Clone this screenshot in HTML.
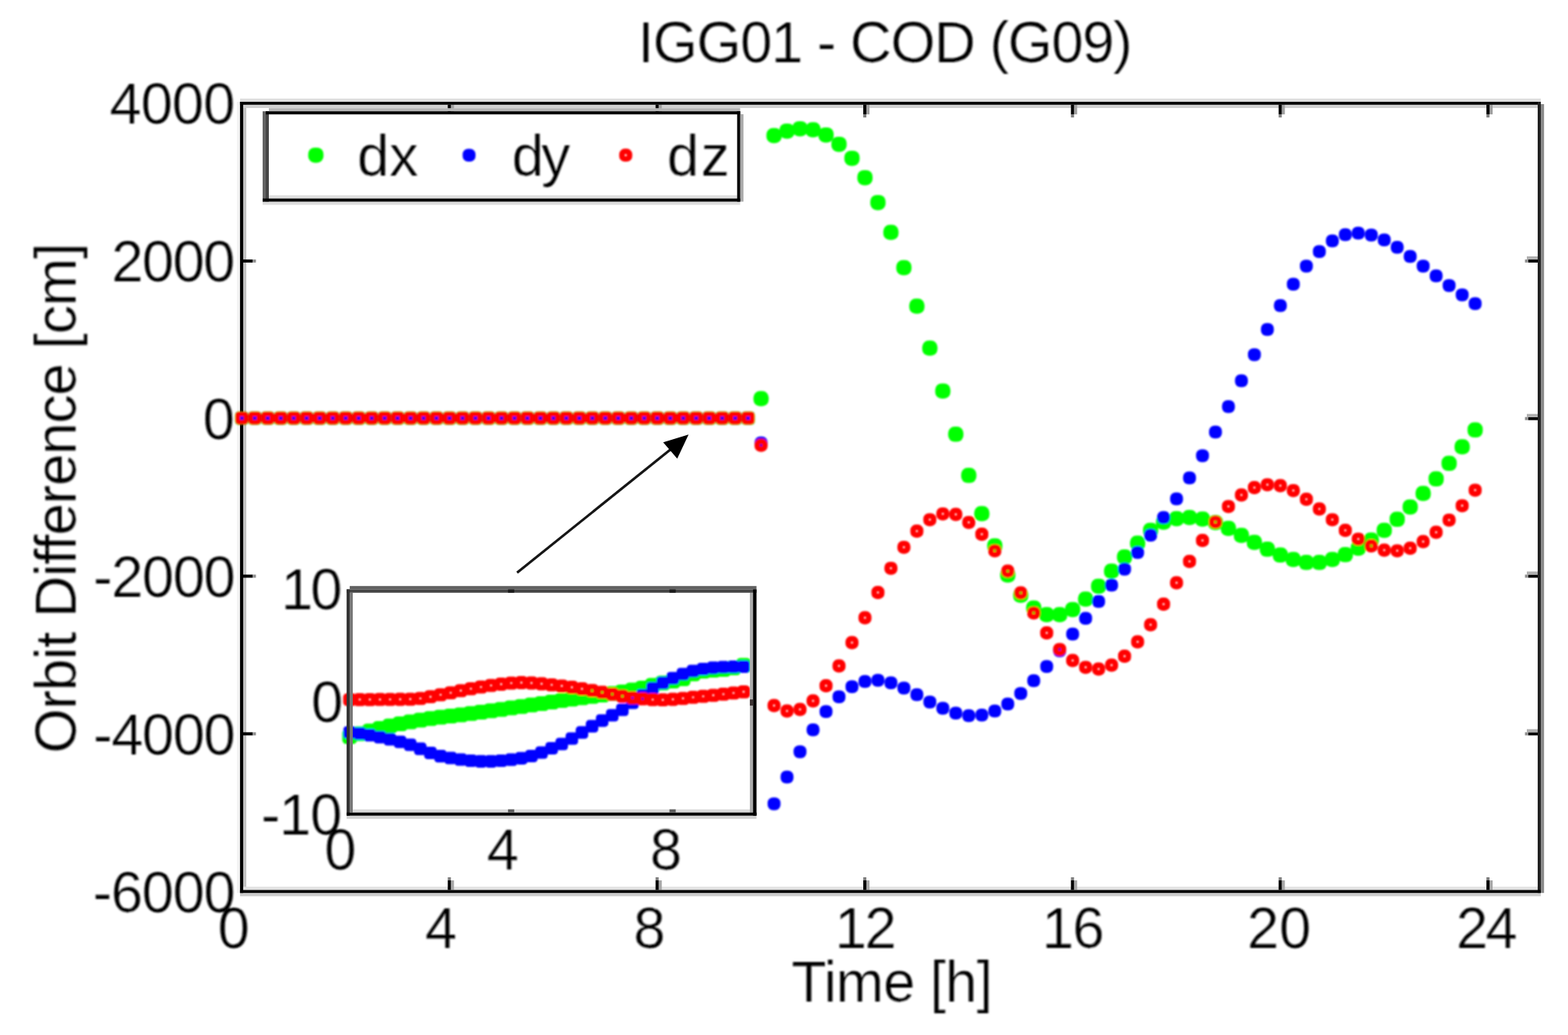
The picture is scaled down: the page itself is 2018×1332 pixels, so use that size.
<!DOCTYPE html>
<html lang="en"><head><meta charset="utf-8"><title>IGG01 - COD (G09)</title>
<style>html,body{margin:0;padding:0;background:#fff;}body{width:2018px;height:1332px;overflow:hidden;}svg{display:block;}text{font-family:"Liberation Sans",sans-serif;font-size:74px;fill:#000;stroke:#fff;stroke-width:0.2px;stroke-linejoin:round;}</style></head><body>
<svg width="2018" height="1332" viewBox="0 0 2018 1332">
<defs>
<filter id="fl" filterUnits="userSpaceOnUse" x="0" y="0" width="2018" height="1332"><feGaussianBlur stdDeviation="0.7"/></filter>
<filter id="fm" filterUnits="userSpaceOnUse" x="0" y="0" width="2018" height="1332"><feGaussianBlur stdDeviation="1.2"/></filter>
<filter id="ft" filterUnits="userSpaceOnUse" x="0" y="0" width="2018" height="1332"><feGaussianBlur stdDeviation="0.9"/></filter>
</defs>
<rect width="2018" height="1332" fill="#ffffff"/>
<g filter="url(#fl)">
<rect x="304.9" y="131.0" width="4.0" height="1018.2" fill="#f3f3f3"/>
<rect x="313.0" y="134.8" width="4.0" height="1010.6" fill="#c2c2c2"/>
<rect x="308.9" y="126.8" width="1674.1" height="4.2" fill="#dedede"/>
<rect x="313.0" y="134.8" width="1666.0" height="4.2" fill="#d0d0d0"/>
<rect x="1983.0" y="134.0" width="4.2" height="1015.2" fill="#8a8a8a"/>
<rect x="313.0" y="1141.2" width="1666.0" height="4.2" fill="#e2e2e2"/>
<rect x="308.9" y="1149.2" width="1674.1" height="4.2" fill="#cccccc"/>
<rect x="580.3" y="1133.0" width="4.0" height="12.4" fill="#a8a8a8"/>
<rect x="576.3" y="1129.0" width="4.0" height="4.0" fill="#808080"/>
<rect x="576.3" y="1133.0" width="4.0" height="12.4" fill="#000"/>
<rect x="580.3" y="134.8" width="4.0" height="12.4" fill="#a0a0a0"/>
<rect x="576.3" y="147.2" width="4.0" height="4.0" fill="#808080"/>
<rect x="576.3" y="134.8" width="4.0" height="12.4" fill="#000"/>
<rect x="847.7" y="1133.0" width="4.0" height="12.4" fill="#a8a8a8"/>
<rect x="843.7" y="1129.0" width="4.0" height="4.0" fill="#808080"/>
<rect x="843.7" y="1133.0" width="4.0" height="12.4" fill="#000"/>
<rect x="847.7" y="134.8" width="4.0" height="12.4" fill="#a0a0a0"/>
<rect x="843.7" y="147.2" width="4.0" height="4.0" fill="#808080"/>
<rect x="843.7" y="134.8" width="4.0" height="12.4" fill="#000"/>
<rect x="1115.0" y="1133.0" width="4.0" height="12.4" fill="#a8a8a8"/>
<rect x="1111.0" y="1129.0" width="4.0" height="4.0" fill="#808080"/>
<rect x="1111.0" y="1133.0" width="4.0" height="12.4" fill="#000"/>
<rect x="1115.0" y="134.8" width="4.0" height="12.4" fill="#a0a0a0"/>
<rect x="1111.0" y="147.2" width="4.0" height="4.0" fill="#808080"/>
<rect x="1111.0" y="134.8" width="4.0" height="12.4" fill="#000"/>
<rect x="1382.3" y="1133.0" width="4.0" height="12.4" fill="#a8a8a8"/>
<rect x="1378.3" y="1129.0" width="4.0" height="4.0" fill="#808080"/>
<rect x="1378.3" y="1133.0" width="4.0" height="12.4" fill="#000"/>
<rect x="1382.3" y="134.8" width="4.0" height="12.4" fill="#a0a0a0"/>
<rect x="1378.3" y="147.2" width="4.0" height="4.0" fill="#808080"/>
<rect x="1378.3" y="134.8" width="4.0" height="12.4" fill="#000"/>
<rect x="1649.6" y="1133.0" width="4.0" height="12.4" fill="#a8a8a8"/>
<rect x="1645.6" y="1129.0" width="4.0" height="4.0" fill="#808080"/>
<rect x="1645.6" y="1133.0" width="4.0" height="12.4" fill="#000"/>
<rect x="1649.6" y="134.8" width="4.0" height="12.4" fill="#a0a0a0"/>
<rect x="1645.6" y="147.2" width="4.0" height="4.0" fill="#808080"/>
<rect x="1645.6" y="134.8" width="4.0" height="12.4" fill="#000"/>
<rect x="1917.0" y="1133.0" width="4.0" height="12.4" fill="#a8a8a8"/>
<rect x="1913.0" y="1129.0" width="4.0" height="4.0" fill="#808080"/>
<rect x="1913.0" y="1133.0" width="4.0" height="12.4" fill="#000"/>
<rect x="1917.0" y="134.8" width="4.0" height="12.4" fill="#a0a0a0"/>
<rect x="1913.0" y="147.2" width="4.0" height="4.0" fill="#808080"/>
<rect x="1913.0" y="134.8" width="4.0" height="12.4" fill="#000"/>
<rect x="313.0" y="333.9" width="12.4" height="4.0" fill="#000"/>
<rect x="325.4" y="333.9" width="4.0" height="4.0" fill="#909090"/>
<rect x="1966.6" y="333.9" width="12.4" height="4.0" fill="#000"/>
<rect x="1962.6" y="333.9" width="4.0" height="4.0" fill="#909090"/>
<rect x="1965.0" y="329.9" width="14.0" height="4.0" fill="#b0b0b0"/>
<rect x="313.0" y="536.7" width="12.4" height="4.0" fill="#000"/>
<rect x="325.4" y="536.7" width="4.0" height="4.0" fill="#909090"/>
<rect x="1966.6" y="536.7" width="12.4" height="4.0" fill="#000"/>
<rect x="1962.6" y="536.7" width="4.0" height="4.0" fill="#909090"/>
<rect x="1965.0" y="532.7" width="14.0" height="4.0" fill="#b0b0b0"/>
<rect x="313.0" y="739.5" width="12.4" height="4.0" fill="#000"/>
<rect x="325.4" y="739.5" width="4.0" height="4.0" fill="#909090"/>
<rect x="1966.6" y="739.5" width="12.4" height="4.0" fill="#000"/>
<rect x="1962.6" y="739.5" width="4.0" height="4.0" fill="#909090"/>
<rect x="1965.0" y="735.5" width="14.0" height="4.0" fill="#b0b0b0"/>
<rect x="313.0" y="942.4" width="12.4" height="4.0" fill="#000"/>
<rect x="325.4" y="942.4" width="4.0" height="4.0" fill="#909090"/>
<rect x="1966.6" y="942.4" width="12.4" height="4.0" fill="#000"/>
<rect x="1962.6" y="942.4" width="4.0" height="4.0" fill="#909090"/>
<rect x="1965.0" y="938.4" width="14.0" height="4.0" fill="#b0b0b0"/>
<rect x="308.9" y="131.0" width="4.1" height="1018.2" fill="#000"/>
<rect x="308.9" y="131.0" width="1674.1" height="3.8" fill="#000"/>
<rect x="1979.0" y="131.0" width="4.0" height="1018.2" fill="#202020"/>
<rect x="308.9" y="1145.4" width="1674.1" height="3.8" fill="#000"/>
</g>
<g filter="url(#fm)">
<g fill="#00ff00"><rect x="302.5" y="529.4" width="17.4" height="17.4" rx="4.3"/><rect x="319.2" y="529.4" width="17.4" height="17.4" rx="4.3"/><rect x="335.9" y="529.4" width="17.4" height="17.4" rx="4.3"/><rect x="352.6" y="529.4" width="17.4" height="17.4" rx="4.3"/><rect x="369.3" y="529.4" width="17.4" height="17.4" rx="4.3"/><rect x="386.0" y="529.4" width="17.4" height="17.4" rx="4.3"/><rect x="402.7" y="529.4" width="17.4" height="17.4" rx="4.3"/><rect x="419.5" y="529.4" width="17.4" height="17.4" rx="4.3"/><rect x="436.2" y="529.4" width="17.4" height="17.4" rx="4.3"/><rect x="452.9" y="529.4" width="17.4" height="17.4" rx="4.3"/><rect x="469.6" y="529.4" width="17.4" height="17.4" rx="4.3"/><rect x="486.3" y="529.4" width="17.4" height="17.4" rx="4.3"/><rect x="503.0" y="529.4" width="17.4" height="17.4" rx="4.3"/><rect x="519.7" y="529.4" width="17.4" height="17.4" rx="4.3"/><rect x="536.4" y="529.4" width="17.4" height="17.4" rx="4.3"/><rect x="553.1" y="529.4" width="17.4" height="17.4" rx="4.3"/><rect x="569.8" y="529.4" width="17.4" height="17.4" rx="4.3"/><rect x="586.5" y="529.4" width="17.4" height="17.4" rx="4.3"/><rect x="603.2" y="529.4" width="17.4" height="17.4" rx="4.3"/><rect x="620.0" y="529.4" width="17.4" height="17.4" rx="4.3"/><rect x="636.7" y="529.4" width="17.4" height="17.4" rx="4.3"/><rect x="653.4" y="529.4" width="17.4" height="17.4" rx="4.3"/><rect x="670.1" y="529.4" width="17.4" height="17.4" rx="4.3"/><rect x="686.8" y="529.4" width="17.4" height="17.4" rx="4.3"/><rect x="703.5" y="529.4" width="17.4" height="17.4" rx="4.3"/><rect x="720.2" y="529.4" width="17.4" height="17.4" rx="4.3"/><rect x="736.9" y="529.4" width="17.4" height="17.4" rx="4.3"/><rect x="753.6" y="529.4" width="17.4" height="17.4" rx="4.3"/><rect x="770.3" y="529.4" width="17.4" height="17.4" rx="4.3"/><rect x="787.0" y="529.4" width="17.4" height="17.4" rx="4.3"/><rect x="803.7" y="529.4" width="17.4" height="17.4" rx="4.3"/><rect x="820.4" y="529.4" width="17.4" height="17.4" rx="4.3"/><rect x="837.2" y="529.4" width="17.4" height="17.4" rx="4.3"/><rect x="853.9" y="529.4" width="17.4" height="17.4" rx="4.3"/><rect x="870.6" y="529.4" width="17.4" height="17.4" rx="4.3"/><rect x="887.3" y="529.4" width="17.4" height="17.4" rx="4.3"/><rect x="904.0" y="529.4" width="17.4" height="17.4" rx="4.3"/><rect x="920.7" y="529.4" width="17.4" height="17.4" rx="4.3"/><rect x="937.4" y="529.4" width="17.4" height="17.4" rx="4.3"/><rect x="954.1" y="529.4" width="17.4" height="17.4" rx="4.3"/></g>
<g fill="#00ff00"><rect x="969.7" y="503.2" width="19.6" height="19.6" rx="8.3"/><rect x="986.4" y="164.7" width="19.6" height="19.6" rx="8.3"/><rect x="1003.1" y="158.9" width="19.6" height="19.6" rx="8.3"/><rect x="1019.8" y="155.9" width="19.6" height="19.6" rx="8.3"/><rect x="1036.6" y="157.2" width="19.6" height="19.6" rx="8.3"/><rect x="1053.3" y="163.9" width="19.6" height="19.6" rx="8.3"/><rect x="1070.0" y="175.9" width="19.6" height="19.6" rx="8.3"/><rect x="1086.7" y="193.9" width="19.6" height="19.6" rx="8.3"/><rect x="1103.4" y="218.9" width="19.6" height="19.6" rx="8.3"/><rect x="1120.1" y="250.9" width="19.6" height="19.6" rx="8.3"/><rect x="1136.8" y="289.2" width="19.6" height="19.6" rx="8.3"/><rect x="1153.5" y="334.7" width="19.6" height="19.6" rx="8.3"/><rect x="1170.2" y="384.2" width="19.6" height="19.6" rx="8.3"/><rect x="1186.9" y="438.2" width="19.6" height="19.6" rx="8.3"/><rect x="1203.6" y="493.4" width="19.6" height="19.6" rx="8.3"/><rect x="1220.3" y="549.0" width="19.6" height="19.6" rx="8.3"/><rect x="1237.0" y="602.0" width="19.6" height="19.6" rx="8.3"/><rect x="1253.8" y="651.2" width="19.6" height="19.6" rx="8.3"/><rect x="1270.5" y="692.7" width="19.6" height="19.6" rx="8.3"/><rect x="1287.2" y="730.2" width="19.6" height="19.6" rx="8.3"/><rect x="1303.9" y="756.2" width="19.6" height="19.6" rx="8.3"/><rect x="1320.6" y="772.7" width="19.6" height="19.6" rx="8.3"/><rect x="1337.3" y="781.2" width="19.6" height="19.6" rx="8.3"/><rect x="1354.0" y="781.2" width="19.6" height="19.6" rx="8.3"/><rect x="1370.7" y="774.7" width="19.6" height="19.6" rx="8.3"/><rect x="1387.4" y="761.2" width="19.6" height="19.6" rx="8.3"/><rect x="1404.1" y="744.7" width="19.6" height="19.6" rx="8.3"/><rect x="1420.8" y="725.2" width="19.6" height="19.6" rx="8.3"/><rect x="1437.5" y="707.0" width="19.6" height="19.6" rx="8.3"/><rect x="1454.3" y="689.2" width="19.6" height="19.6" rx="8.3"/><rect x="1471.0" y="672.7" width="19.6" height="19.6" rx="8.3"/><rect x="1487.7" y="662.2" width="19.6" height="19.6" rx="8.3"/><rect x="1504.4" y="657.7" width="19.6" height="19.6" rx="8.3"/><rect x="1521.1" y="656.2" width="19.6" height="19.6" rx="8.3"/><rect x="1537.8" y="658.2" width="19.6" height="19.6" rx="8.3"/><rect x="1554.5" y="662.7" width="19.6" height="19.6" rx="8.3"/><rect x="1571.2" y="670.2" width="19.6" height="19.6" rx="8.3"/><rect x="1587.9" y="679.2" width="19.6" height="19.6" rx="8.3"/><rect x="1604.6" y="688.2" width="19.6" height="19.6" rx="8.3"/><rect x="1621.3" y="697.0" width="19.6" height="19.6" rx="8.3"/><rect x="1638.0" y="704.5" width="19.6" height="19.6" rx="8.3"/><rect x="1654.7" y="710.2" width="19.6" height="19.6" rx="8.3"/><rect x="1671.5" y="714.0" width="19.6" height="19.6" rx="8.3"/><rect x="1688.2" y="714.0" width="19.6" height="19.6" rx="8.3"/><rect x="1704.9" y="710.2" width="19.6" height="19.6" rx="8.3"/><rect x="1721.6" y="704.0" width="19.6" height="19.6" rx="8.3"/><rect x="1738.3" y="695.7" width="19.6" height="19.6" rx="8.3"/><rect x="1755.0" y="685.2" width="19.6" height="19.6" rx="8.3"/><rect x="1771.7" y="672.7" width="19.6" height="19.6" rx="8.3"/><rect x="1788.4" y="658.5" width="19.6" height="19.6" rx="8.3"/><rect x="1805.1" y="642.7" width="19.6" height="19.6" rx="8.3"/><rect x="1821.8" y="625.2" width="19.6" height="19.6" rx="8.3"/><rect x="1838.5" y="606.5" width="19.6" height="19.6" rx="8.3"/><rect x="1855.2" y="586.5" width="19.6" height="19.6" rx="8.3"/><rect x="1872.0" y="565.2" width="19.6" height="19.6" rx="8.3"/><rect x="1888.7" y="543.5" width="19.6" height="19.6" rx="8.3"/></g>
<g fill="#0000ff"><rect x="303.1" y="530.0" width="16.1" height="16.1" rx="4.0"/><rect x="319.9" y="530.0" width="16.1" height="16.1" rx="4.0"/><rect x="336.6" y="530.0" width="16.1" height="16.1" rx="4.0"/><rect x="353.3" y="530.0" width="16.1" height="16.1" rx="4.0"/><rect x="370.0" y="530.0" width="16.1" height="16.1" rx="4.0"/><rect x="386.7" y="530.0" width="16.1" height="16.1" rx="4.0"/><rect x="403.4" y="530.0" width="16.1" height="16.1" rx="4.0"/><rect x="420.1" y="530.0" width="16.1" height="16.1" rx="4.0"/><rect x="436.8" y="530.0" width="16.1" height="16.1" rx="4.0"/><rect x="453.5" y="530.0" width="16.1" height="16.1" rx="4.0"/><rect x="470.2" y="530.0" width="16.1" height="16.1" rx="4.0"/><rect x="486.9" y="530.0" width="16.1" height="16.1" rx="4.0"/><rect x="503.6" y="530.0" width="16.1" height="16.1" rx="4.0"/><rect x="520.4" y="530.0" width="16.1" height="16.1" rx="4.0"/><rect x="537.1" y="530.0" width="16.1" height="16.1" rx="4.0"/><rect x="553.8" y="530.0" width="16.1" height="16.1" rx="4.0"/><rect x="570.5" y="530.0" width="16.1" height="16.1" rx="4.0"/><rect x="587.2" y="530.0" width="16.1" height="16.1" rx="4.0"/><rect x="603.9" y="530.0" width="16.1" height="16.1" rx="4.0"/><rect x="620.6" y="530.0" width="16.1" height="16.1" rx="4.0"/><rect x="637.3" y="530.0" width="16.1" height="16.1" rx="4.0"/><rect x="654.0" y="530.0" width="16.1" height="16.1" rx="4.0"/><rect x="670.7" y="530.0" width="16.1" height="16.1" rx="4.0"/><rect x="687.4" y="530.0" width="16.1" height="16.1" rx="4.0"/><rect x="704.1" y="530.0" width="16.1" height="16.1" rx="4.0"/><rect x="720.8" y="530.0" width="16.1" height="16.1" rx="4.0"/><rect x="737.6" y="530.0" width="16.1" height="16.1" rx="4.0"/><rect x="754.3" y="530.0" width="16.1" height="16.1" rx="4.0"/><rect x="771.0" y="530.0" width="16.1" height="16.1" rx="4.0"/><rect x="787.7" y="530.0" width="16.1" height="16.1" rx="4.0"/><rect x="804.4" y="530.0" width="16.1" height="16.1" rx="4.0"/><rect x="821.1" y="530.0" width="16.1" height="16.1" rx="4.0"/><rect x="837.8" y="530.0" width="16.1" height="16.1" rx="4.0"/><rect x="854.5" y="530.0" width="16.1" height="16.1" rx="4.0"/><rect x="871.2" y="530.0" width="16.1" height="16.1" rx="4.0"/><rect x="887.9" y="530.0" width="16.1" height="16.1" rx="4.0"/><rect x="904.6" y="530.0" width="16.1" height="16.1" rx="4.0"/><rect x="921.3" y="530.0" width="16.1" height="16.1" rx="4.0"/><rect x="938.1" y="530.0" width="16.1" height="16.1" rx="4.0"/><rect x="954.8" y="530.0" width="16.1" height="16.1" rx="4.0"/></g>
<g fill="#0000ff"><rect x="971.2" y="561.7" width="16.6" height="16.6" rx="7.1"/><rect x="987.9" y="1026.2" width="16.6" height="16.6" rx="7.1"/><rect x="1004.6" y="991.7" width="16.6" height="16.6" rx="7.1"/><rect x="1021.3" y="959.2" width="16.6" height="16.6" rx="7.1"/><rect x="1038.1" y="931.0" width="16.6" height="16.6" rx="7.1"/><rect x="1054.8" y="907.5" width="16.6" height="16.6" rx="7.1"/><rect x="1071.5" y="888.5" width="16.6" height="16.6" rx="7.1"/><rect x="1088.2" y="875.5" width="16.6" height="16.6" rx="7.1"/><rect x="1104.9" y="868.7" width="16.6" height="16.6" rx="7.1"/><rect x="1121.6" y="867.2" width="16.6" height="16.6" rx="7.1"/><rect x="1138.3" y="870.5" width="16.6" height="16.6" rx="7.1"/><rect x="1155.0" y="877.2" width="16.6" height="16.6" rx="7.1"/><rect x="1171.7" y="885.7" width="16.6" height="16.6" rx="7.1"/><rect x="1188.4" y="895.2" width="16.6" height="16.6" rx="7.1"/><rect x="1205.1" y="903.2" width="16.6" height="16.6" rx="7.1"/><rect x="1221.8" y="909.5" width="16.6" height="16.6" rx="7.1"/><rect x="1238.5" y="912.7" width="16.6" height="16.6" rx="7.1"/><rect x="1255.3" y="912.0" width="16.6" height="16.6" rx="7.1"/><rect x="1272.0" y="906.7" width="16.6" height="16.6" rx="7.1"/><rect x="1288.7" y="897.7" width="16.6" height="16.6" rx="7.1"/><rect x="1305.4" y="884.2" width="16.6" height="16.6" rx="7.1"/><rect x="1322.1" y="867.7" width="16.6" height="16.6" rx="7.1"/><rect x="1338.8" y="849.5" width="16.6" height="16.6" rx="7.1"/><rect x="1355.5" y="829.2" width="16.6" height="16.6" rx="7.1"/><rect x="1372.2" y="807.7" width="16.6" height="16.6" rx="7.1"/><rect x="1388.9" y="787.5" width="16.6" height="16.6" rx="7.1"/><rect x="1405.6" y="765.7" width="16.6" height="16.6" rx="7.1"/><rect x="1422.3" y="744.7" width="16.6" height="16.6" rx="7.1"/><rect x="1439.0" y="724.2" width="16.6" height="16.6" rx="7.1"/><rect x="1455.8" y="702.7" width="16.6" height="16.6" rx="7.1"/><rect x="1472.5" y="680.5" width="16.6" height="16.6" rx="7.1"/><rect x="1489.2" y="657.7" width="16.6" height="16.6" rx="7.1"/><rect x="1505.9" y="633.7" width="16.6" height="16.6" rx="7.1"/><rect x="1522.6" y="606.7" width="16.6" height="16.6" rx="7.1"/><rect x="1539.3" y="578.2" width="16.6" height="16.6" rx="7.1"/><rect x="1556.0" y="547.7" width="16.6" height="16.6" rx="7.1"/><rect x="1572.7" y="515.0" width="16.6" height="16.6" rx="7.1"/><rect x="1589.4" y="481.7" width="16.6" height="16.6" rx="7.1"/><rect x="1606.1" y="448.2" width="16.6" height="16.6" rx="7.1"/><rect x="1622.8" y="415.7" width="16.6" height="16.6" rx="7.1"/><rect x="1639.5" y="384.9" width="16.6" height="16.6" rx="7.1"/><rect x="1656.2" y="357.4" width="16.6" height="16.6" rx="7.1"/><rect x="1673.0" y="334.2" width="16.6" height="16.6" rx="7.1"/><rect x="1689.7" y="315.4" width="16.6" height="16.6" rx="7.1"/><rect x="1706.4" y="301.7" width="16.6" height="16.6" rx="7.1"/><rect x="1723.1" y="293.7" width="16.6" height="16.6" rx="7.1"/><rect x="1739.8" y="291.7" width="16.6" height="16.6" rx="7.1"/><rect x="1756.5" y="294.2" width="16.6" height="16.6" rx="7.1"/><rect x="1773.2" y="300.4" width="16.6" height="16.6" rx="7.1"/><rect x="1789.9" y="309.9" width="16.6" height="16.6" rx="7.1"/><rect x="1806.6" y="321.7" width="16.6" height="16.6" rx="7.1"/><rect x="1823.3" y="334.2" width="16.6" height="16.6" rx="7.1"/><rect x="1840.0" y="346.7" width="16.6" height="16.6" rx="7.1"/><rect x="1856.7" y="359.2" width="16.6" height="16.6" rx="7.1"/><rect x="1873.5" y="371.2" width="16.6" height="16.6" rx="7.1"/><rect x="1890.2" y="382.4" width="16.6" height="16.6" rx="7.1"/></g>
<g fill="none" stroke="#ff0000" stroke-width="6.2"><rect x="305.9" y="532.8" width="10.6" height="10.6" rx="1.6"/><rect x="322.6" y="532.8" width="10.6" height="10.6" rx="1.6"/><rect x="339.3" y="532.8" width="10.6" height="10.6" rx="1.6"/><rect x="356.0" y="532.8" width="10.6" height="10.6" rx="1.6"/><rect x="372.7" y="532.8" width="10.6" height="10.6" rx="1.6"/><rect x="389.4" y="532.8" width="10.6" height="10.6" rx="1.6"/><rect x="406.1" y="532.8" width="10.6" height="10.6" rx="1.6"/><rect x="422.9" y="532.8" width="10.6" height="10.6" rx="1.6"/><rect x="439.6" y="532.8" width="10.6" height="10.6" rx="1.6"/><rect x="456.3" y="532.8" width="10.6" height="10.6" rx="1.6"/><rect x="473.0" y="532.8" width="10.6" height="10.6" rx="1.6"/><rect x="489.7" y="532.8" width="10.6" height="10.6" rx="1.6"/><rect x="506.4" y="532.8" width="10.6" height="10.6" rx="1.6"/><rect x="523.1" y="532.8" width="10.6" height="10.6" rx="1.6"/><rect x="539.8" y="532.8" width="10.6" height="10.6" rx="1.6"/><rect x="556.5" y="532.8" width="10.6" height="10.6" rx="1.6"/><rect x="573.2" y="532.8" width="10.6" height="10.6" rx="1.6"/><rect x="589.9" y="532.8" width="10.6" height="10.6" rx="1.6"/><rect x="606.6" y="532.8" width="10.6" height="10.6" rx="1.6"/><rect x="623.4" y="532.8" width="10.6" height="10.6" rx="1.6"/><rect x="640.1" y="532.8" width="10.6" height="10.6" rx="1.6"/><rect x="656.8" y="532.8" width="10.6" height="10.6" rx="1.6"/><rect x="673.5" y="532.8" width="10.6" height="10.6" rx="1.6"/><rect x="690.2" y="532.8" width="10.6" height="10.6" rx="1.6"/><rect x="706.9" y="532.8" width="10.6" height="10.6" rx="1.6"/><rect x="723.6" y="532.8" width="10.6" height="10.6" rx="1.6"/><rect x="740.3" y="532.8" width="10.6" height="10.6" rx="1.6"/><rect x="757.0" y="532.8" width="10.6" height="10.6" rx="1.6"/><rect x="773.7" y="532.8" width="10.6" height="10.6" rx="1.6"/><rect x="790.4" y="532.8" width="10.6" height="10.6" rx="1.6"/><rect x="807.1" y="532.8" width="10.6" height="10.6" rx="1.6"/><rect x="823.8" y="532.8" width="10.6" height="10.6" rx="1.6"/><rect x="840.6" y="532.8" width="10.6" height="10.6" rx="1.6"/><rect x="857.3" y="532.8" width="10.6" height="10.6" rx="1.6"/><rect x="874.0" y="532.8" width="10.6" height="10.6" rx="1.6"/><rect x="890.7" y="532.8" width="10.6" height="10.6" rx="1.6"/><rect x="907.4" y="532.8" width="10.6" height="10.6" rx="1.6"/><rect x="924.1" y="532.8" width="10.6" height="10.6" rx="1.6"/><rect x="940.8" y="532.8" width="10.6" height="10.6" rx="1.6"/><rect x="957.5" y="532.8" width="10.6" height="10.6" rx="1.6"/></g>
<g fill="none" stroke="#ff0000" stroke-width="7.2"><rect x="974.7" y="568.2" width="9.6" height="9.6" rx="3.6"/><rect x="991.4" y="903.2" width="9.6" height="9.6" rx="3.6"/><rect x="1008.1" y="910.2" width="9.6" height="9.6" rx="3.6"/><rect x="1024.8" y="908.2" width="9.6" height="9.6" rx="3.6"/><rect x="1041.6" y="897.2" width="9.6" height="9.6" rx="3.6"/><rect x="1058.3" y="877.7" width="9.6" height="9.6" rx="3.6"/><rect x="1075.0" y="852.2" width="9.6" height="9.6" rx="3.6"/><rect x="1091.7" y="822.2" width="9.6" height="9.6" rx="3.6"/><rect x="1108.4" y="790.2" width="9.6" height="9.6" rx="3.6"/><rect x="1125.1" y="757.7" width="9.6" height="9.6" rx="3.6"/><rect x="1141.8" y="726.5" width="9.6" height="9.6" rx="3.6"/><rect x="1158.5" y="699.5" width="9.6" height="9.6" rx="3.6"/><rect x="1175.2" y="678.7" width="9.6" height="9.6" rx="3.6"/><rect x="1191.9" y="664.0" width="9.6" height="9.6" rx="3.6"/><rect x="1208.6" y="656.5" width="9.6" height="9.6" rx="3.6"/><rect x="1225.3" y="657.2" width="9.6" height="9.6" rx="3.6"/><rect x="1242.0" y="667.5" width="9.6" height="9.6" rx="3.6"/><rect x="1258.8" y="682.7" width="9.6" height="9.6" rx="3.6"/><rect x="1275.5" y="704.0" width="9.6" height="9.6" rx="3.6"/><rect x="1292.2" y="730.2" width="9.6" height="9.6" rx="3.6"/><rect x="1308.9" y="758.2" width="9.6" height="9.6" rx="3.6"/><rect x="1325.6" y="784.0" width="9.6" height="9.6" rx="3.6"/><rect x="1342.3" y="809.7" width="9.6" height="9.6" rx="3.6"/><rect x="1359.0" y="831.0" width="9.6" height="9.6" rx="3.6"/><rect x="1375.7" y="845.2" width="9.6" height="9.6" rx="3.6"/><rect x="1392.4" y="854.0" width="9.6" height="9.6" rx="3.6"/><rect x="1409.1" y="856.2" width="9.6" height="9.6" rx="3.6"/><rect x="1425.8" y="851.2" width="9.6" height="9.6" rx="3.6"/><rect x="1442.5" y="839.7" width="9.6" height="9.6" rx="3.6"/><rect x="1459.3" y="821.2" width="9.6" height="9.6" rx="3.6"/><rect x="1476.0" y="799.2" width="9.6" height="9.6" rx="3.6"/><rect x="1492.7" y="772.7" width="9.6" height="9.6" rx="3.6"/><rect x="1509.4" y="745.2" width="9.6" height="9.6" rx="3.6"/><rect x="1526.1" y="717.7" width="9.6" height="9.6" rx="3.6"/><rect x="1542.8" y="690.7" width="9.6" height="9.6" rx="3.6"/><rect x="1559.5" y="667.0" width="9.6" height="9.6" rx="3.6"/><rect x="1576.2" y="647.0" width="9.6" height="9.6" rx="3.6"/><rect x="1592.9" y="632.2" width="9.6" height="9.6" rx="3.6"/><rect x="1609.6" y="622.7" width="9.6" height="9.6" rx="3.6"/><rect x="1626.3" y="619.0" width="9.6" height="9.6" rx="3.6"/><rect x="1643.0" y="620.2" width="9.6" height="9.6" rx="3.6"/><rect x="1659.7" y="626.5" width="9.6" height="9.6" rx="3.6"/><rect x="1676.5" y="637.7" width="9.6" height="9.6" rx="3.6"/><rect x="1693.2" y="650.2" width="9.6" height="9.6" rx="3.6"/><rect x="1709.9" y="664.0" width="9.6" height="9.6" rx="3.6"/><rect x="1726.6" y="677.7" width="9.6" height="9.6" rx="3.6"/><rect x="1743.3" y="689.0" width="9.6" height="9.6" rx="3.6"/><rect x="1760.0" y="697.7" width="9.6" height="9.6" rx="3.6"/><rect x="1776.7" y="703.2" width="9.6" height="9.6" rx="3.6"/><rect x="1793.4" y="704.0" width="9.6" height="9.6" rx="3.6"/><rect x="1810.1" y="700.7" width="9.6" height="9.6" rx="3.6"/><rect x="1826.8" y="692.2" width="9.6" height="9.6" rx="3.6"/><rect x="1843.5" y="680.2" width="9.6" height="9.6" rx="3.6"/><rect x="1860.2" y="664.5" width="9.6" height="9.6" rx="3.6"/><rect x="1877.0" y="646.0" width="9.6" height="9.6" rx="3.6"/><rect x="1893.7" y="626.0" width="9.6" height="9.6" rx="3.6"/></g>
</g>
<g filter="url(#fl)">
<rect x="342" y="145.2" width="608.6" height="112.3" fill="#ffffff"/>
<rect x="346.0" y="139.2" width="606.6" height="4.0" fill="#b4b4b4"/>
<rect x="346.0" y="251.3" width="602.7" height="4.2" fill="#dedede"/>
<rect x="338.0" y="259.5" width="614.6" height="4.1" fill="#dcdcdc"/>
<rect x="952.6" y="147.0" width="4.2" height="112.5" fill="#aaaaaa"/>
<rect x="338.0" y="143.2" width="4.0" height="116.3" fill="#646464"/>
<rect x="342.0" y="143.2" width="4.0" height="116.3" fill="#444444"/>
<rect x="342.0" y="143.2" width="610.6" height="4.0" fill="#000"/>
<rect x="338.0" y="255.5" width="614.6" height="4.0" fill="#000"/>
<rect x="948.7" y="143.2" width="3.9" height="116.3" fill="#000"/>
</g>
<g filter="url(#fm)">
<g fill="#00ff00"><rect x="396.7" y="189.9" width="19.6" height="19.6" rx="8.3"/></g>
<g fill="#0000ff"><rect x="595.4" y="191.4" width="16.6" height="16.6" rx="7.1"/></g>
<g fill="none" stroke="#ff0000" stroke-width="7.2"><rect x="800.5" y="194.9" width="9.6" height="9.6" rx="3.6"/></g>
</g>
<rect x="446.1" y="754.2" width="527.5" height="295.5" fill="#ffffff"/>
<g filter="url(#fm)">
<g fill="#00ff00"><rect x="440.5" y="938.5" width="19.0" height="19.0" rx="5.2"/><rect x="453.5" y="934.8" width="19.0" height="19.0" rx="5.2"/><rect x="466.5" y="931.3" width="19.0" height="19.0" rx="5.2"/><rect x="479.5" y="927.9" width="19.0" height="19.0" rx="5.2"/><rect x="492.5" y="924.8" width="19.0" height="19.0" rx="5.2"/><rect x="505.5" y="922.0" width="19.0" height="19.0" rx="5.2"/><rect x="518.5" y="919.4" width="19.0" height="19.0" rx="5.2"/><rect x="531.5" y="917.2" width="19.0" height="19.0" rx="5.2"/><rect x="544.5" y="915.2" width="19.0" height="19.0" rx="5.2"/><rect x="557.5" y="913.5" width="19.0" height="19.0" rx="5.2"/><rect x="570.5" y="911.9" width="19.0" height="19.0" rx="5.2"/><rect x="583.5" y="910.4" width="19.0" height="19.0" rx="5.2"/><rect x="596.5" y="908.8" width="19.0" height="19.0" rx="5.2"/><rect x="609.5" y="907.1" width="19.0" height="19.0" rx="5.2"/><rect x="622.5" y="905.3" width="19.0" height="19.0" rx="5.2"/><rect x="635.5" y="903.5" width="19.0" height="19.0" rx="5.2"/><rect x="648.5" y="901.6" width="19.0" height="19.0" rx="5.2"/><rect x="661.5" y="899.7" width="19.0" height="19.0" rx="5.2"/><rect x="674.5" y="897.8" width="19.0" height="19.0" rx="5.2"/><rect x="687.5" y="895.9" width="19.0" height="19.0" rx="5.2"/><rect x="700.5" y="894.0" width="19.0" height="19.0" rx="5.2"/><rect x="713.5" y="892.1" width="19.0" height="19.0" rx="5.2"/><rect x="726.5" y="890.2" width="19.0" height="19.0" rx="5.2"/><rect x="739.5" y="888.5" width="19.0" height="19.0" rx="5.2"/><rect x="752.5" y="886.7" width="19.0" height="19.0" rx="5.2"/><rect x="765.5" y="884.9" width="19.0" height="19.0" rx="5.2"/><rect x="778.5" y="883.0" width="19.0" height="19.0" rx="5.2"/><rect x="791.5" y="880.9" width="19.0" height="19.0" rx="5.2"/><rect x="804.5" y="878.6" width="19.0" height="19.0" rx="5.2"/><rect x="817.5" y="875.9" width="19.0" height="19.0" rx="5.2"/><rect x="830.5" y="872.5" width="19.0" height="19.0" rx="5.2"/><rect x="843.5" y="869.4" width="19.0" height="19.0" rx="5.2"/><rect x="856.5" y="867.0" width="19.0" height="19.0" rx="5.2"/><rect x="869.5" y="864.1" width="19.0" height="19.0" rx="5.2"/><rect x="882.5" y="857.8" width="19.0" height="19.0" rx="5.2"/><rect x="895.5" y="854.3" width="19.0" height="19.0" rx="5.2"/><rect x="908.5" y="853.1" width="19.0" height="19.0" rx="5.2"/><rect x="921.5" y="852.0" width="19.0" height="19.0" rx="5.2"/><rect x="934.5" y="850.0" width="19.0" height="19.0" rx="5.2"/><rect x="947.5" y="846.8" width="19.0" height="19.0" rx="5.2"/></g>
<g fill="#0000ff"><rect x="441.9" y="934.4" width="16.1" height="16.1" rx="4.4"/><rect x="454.9" y="936.0" width="16.1" height="16.1" rx="4.4"/><rect x="467.9" y="938.1" width="16.1" height="16.1" rx="4.4"/><rect x="480.9" y="940.7" width="16.1" height="16.1" rx="4.4"/><rect x="493.9" y="943.5" width="16.1" height="16.1" rx="4.4"/><rect x="506.9" y="946.7" width="16.1" height="16.1" rx="4.4"/><rect x="519.9" y="950.4" width="16.1" height="16.1" rx="4.4"/><rect x="532.9" y="955.6" width="16.1" height="16.1" rx="4.4"/><rect x="545.9" y="961.0" width="16.1" height="16.1" rx="4.4"/><rect x="558.9" y="965.1" width="16.1" height="16.1" rx="4.4"/><rect x="571.9" y="967.4" width="16.1" height="16.1" rx="4.4"/><rect x="584.9" y="969.4" width="16.1" height="16.1" rx="4.4"/><rect x="597.9" y="971.0" width="16.1" height="16.1" rx="4.4"/><rect x="610.9" y="971.8" width="16.1" height="16.1" rx="4.4"/><rect x="623.9" y="971.8" width="16.1" height="16.1" rx="4.4"/><rect x="636.9" y="971.0" width="16.1" height="16.1" rx="4.4"/><rect x="649.9" y="969.6" width="16.1" height="16.1" rx="4.4"/><rect x="662.9" y="967.8" width="16.1" height="16.1" rx="4.4"/><rect x="675.9" y="964.9" width="16.1" height="16.1" rx="4.4"/><rect x="688.9" y="960.4" width="16.1" height="16.1" rx="4.4"/><rect x="701.9" y="955.0" width="16.1" height="16.1" rx="4.4"/><rect x="714.9" y="949.4" width="16.1" height="16.1" rx="4.4"/><rect x="727.9" y="942.5" width="16.1" height="16.1" rx="4.4"/><rect x="740.9" y="934.6" width="16.1" height="16.1" rx="4.4"/><rect x="753.9" y="926.6" width="16.1" height="16.1" rx="4.4"/><rect x="766.9" y="919.3" width="16.1" height="16.1" rx="4.4"/><rect x="779.9" y="912.5" width="16.1" height="16.1" rx="4.4"/><rect x="792.9" y="905.4" width="16.1" height="16.1" rx="4.4"/><rect x="805.9" y="896.5" width="16.1" height="16.1" rx="4.4"/><rect x="818.9" y="886.8" width="16.1" height="16.1" rx="4.4"/><rect x="831.9" y="877.7" width="16.1" height="16.1" rx="4.4"/><rect x="844.9" y="870.7" width="16.1" height="16.1" rx="4.4"/><rect x="857.9" y="864.7" width="16.1" height="16.1" rx="4.4"/><rect x="870.9" y="859.4" width="16.1" height="16.1" rx="4.4"/><rect x="883.9" y="855.4" width="16.1" height="16.1" rx="4.4"/><rect x="896.9" y="853.0" width="16.1" height="16.1" rx="4.4"/><rect x="909.9" y="851.3" width="16.1" height="16.1" rx="4.4"/><rect x="922.9" y="850.4" width="16.1" height="16.1" rx="4.4"/><rect x="935.9" y="850.1" width="16.1" height="16.1" rx="4.4"/><rect x="948.9" y="849.9" width="16.1" height="16.1" rx="4.4"/></g>
<g fill="none" stroke="#ff0000" stroke-width="7.2"><rect x="445.2" y="895.5" width="9.6" height="9.6" rx="1.7"/><rect x="458.2" y="895.5" width="9.6" height="9.6" rx="1.7"/><rect x="471.2" y="895.5" width="9.6" height="9.6" rx="1.7"/><rect x="484.2" y="895.4" width="9.6" height="9.6" rx="1.7"/><rect x="497.2" y="895.3" width="9.6" height="9.6" rx="1.7"/><rect x="510.2" y="895.2" width="9.6" height="9.6" rx="1.7"/><rect x="523.2" y="895.0" width="9.6" height="9.6" rx="1.7"/><rect x="536.2" y="894.1" width="9.6" height="9.6" rx="1.7"/><rect x="549.2" y="891.9" width="9.6" height="9.6" rx="1.7"/><rect x="562.2" y="889.3" width="9.6" height="9.6" rx="1.7"/><rect x="575.2" y="886.8" width="9.6" height="9.6" rx="1.7"/><rect x="588.2" y="884.0" width="9.6" height="9.6" rx="1.7"/><rect x="601.2" y="881.6" width="9.6" height="9.6" rx="1.7"/><rect x="614.2" y="879.3" width="9.6" height="9.6" rx="1.7"/><rect x="627.2" y="877.3" width="9.6" height="9.6" rx="1.7"/><rect x="640.2" y="875.7" width="9.6" height="9.6" rx="1.7"/><rect x="653.2" y="874.3" width="9.6" height="9.6" rx="1.7"/><rect x="666.2" y="873.7" width="9.6" height="9.6" rx="1.7"/><rect x="679.2" y="874.2" width="9.6" height="9.6" rx="1.7"/><rect x="692.2" y="875.2" width="9.6" height="9.6" rx="1.7"/><rect x="705.2" y="876.6" width="9.6" height="9.6" rx="1.7"/><rect x="718.2" y="878.0" width="9.6" height="9.6" rx="1.7"/><rect x="731.2" y="879.7" width="9.6" height="9.6" rx="1.7"/><rect x="744.2" y="881.7" width="9.6" height="9.6" rx="1.7"/><rect x="757.2" y="883.9" width="9.6" height="9.6" rx="1.7"/><rect x="770.2" y="886.1" width="9.6" height="9.6" rx="1.7"/><rect x="783.2" y="888.6" width="9.6" height="9.6" rx="1.7"/><rect x="796.2" y="891.2" width="9.6" height="9.6" rx="1.7"/><rect x="809.2" y="893.3" width="9.6" height="9.6" rx="1.7"/><rect x="822.2" y="894.6" width="9.6" height="9.6" rx="1.7"/><rect x="835.2" y="895.6" width="9.6" height="9.6" rx="1.7"/><rect x="848.2" y="895.9" width="9.6" height="9.6" rx="1.7"/><rect x="861.2" y="895.2" width="9.6" height="9.6" rx="1.7"/><rect x="874.2" y="894.0" width="9.6" height="9.6" rx="1.7"/><rect x="887.2" y="892.6" width="9.6" height="9.6" rx="1.7"/><rect x="900.2" y="891.3" width="9.6" height="9.6" rx="1.7"/><rect x="913.2" y="890.0" width="9.6" height="9.6" rx="1.7"/><rect x="926.2" y="888.6" width="9.6" height="9.6" rx="1.7"/><rect x="939.2" y="887.1" width="9.6" height="9.6" rx="1.7"/><rect x="952.2" y="885.5" width="9.6" height="9.6" rx="1.7"/></g>
</g>
<g filter="url(#fl)">
<rect x="454.0" y="1041.6" width="515.2" height="4.1" fill="#dadada"/>
<rect x="446.1" y="1049.7" width="527.5" height="4.1" fill="#d2d2d2"/>
<rect x="965.1" y="762.8" width="4.1" height="282.9" fill="#aaaaaa"/>
<rect x="450.1" y="754.2" width="523.5" height="4.3" fill="#606060"/>
<rect x="446.1" y="758.5" width="527.5" height="4.3" fill="#444444"/>
<rect x="446.1" y="758.5" width="4.0" height="291.2" fill="#303030"/>
<rect x="450.1" y="762.8" width="3.9" height="282.9" fill="#787878"/>
<rect x="446.1" y="1045.7" width="527.5" height="4.0" fill="#000"/>
<rect x="969.2" y="758.5" width="4.4" height="291.2" fill="#000"/>
<rect x="653.8" y="758.5" width="8.0" height="4.3" fill="#1a1a1a"/>
<rect x="653.8" y="1041.6" width="8.0" height="4.1" fill="#5a5a5a"/>
<rect x="861.6" y="758.5" width="8.0" height="4.3" fill="#1a1a1a"/>
<rect x="861.6" y="1041.6" width="8.0" height="4.1" fill="#5a5a5a"/>
<rect x="965.1" y="900.2" width="4.1" height="7.9" fill="#3a3030"/>
</g>
<g filter="url(#fl)">
<line x1="665.5" y1="737" x2="866" y2="576" stroke="#141414" stroke-width="3.3"/>
<polygon points="886.2,559.3 853.5,569.3 871.6,590.2" fill="#000"/>
</g>
<g filter="url(#ft)">
<text x="821.0" y="80.3" style="letter-spacing:-1.34px">IGG01 - COD (G09)</text>
<text x="141.0" y="159.2" style="letter-spacing:-1.00px">4000</text>
<text x="143.5" y="362.1" style="letter-spacing:-1.83px">2000</text>
<text x="261.0" y="564.9">0</text>
<text x="120.0" y="767.8" style="letter-spacing:-1.50px">-2000</text>
<text x="120.0" y="970.6" style="letter-spacing:-1.50px">-4000</text>
<text x="119.5" y="1173.5" style="letter-spacing:-1.38px">-6000</text>
<text x="280.2" y="1220.0">0</text>
<text x="547.0" y="1220.0">4</text>
<text x="815.2" y="1220.0">8</text>
<text x="1074.5" y="1220.0" style="letter-spacing:-3.00px">12</text>
<text x="1341.0" y="1220.0" style="letter-spacing:-2.00px">16</text>
<text x="1605.0" y="1220.0" style="letter-spacing:0.00px">20</text>
<text x="1874.0" y="1220.0" style="letter-spacing:-3.50px">24</text>
<text x="1018.5" y="1288.5" style="letter-spacing:-0.79px">Time [h]</text>
<text transform="translate(97.3,969.4) rotate(-90)" style="letter-spacing:-1.02px">Orbit Difference [cm]</text>
<text x="361.7" y="784.4" style="letter-spacing:-3.30px">10</text>
<text x="400.6" y="928.5">0</text>
<text x="336.0" y="1073.5" style="letter-spacing:-1.30px">-10</text>
<text x="417.6" y="1119.0">0</text>
<text x="626.4" y="1119.0">4</text>
<text x="836.4" y="1119.0">8</text>
<text x="459.8" y="225.5" style="letter-spacing:0.30px">dx</text>
<text x="658.7" y="225.5" style="letter-spacing:-3.00px">dy</text>
<text x="858.4" y="225.5" style="letter-spacing:2.40px">dz</text>
</g>
</svg></body></html>
